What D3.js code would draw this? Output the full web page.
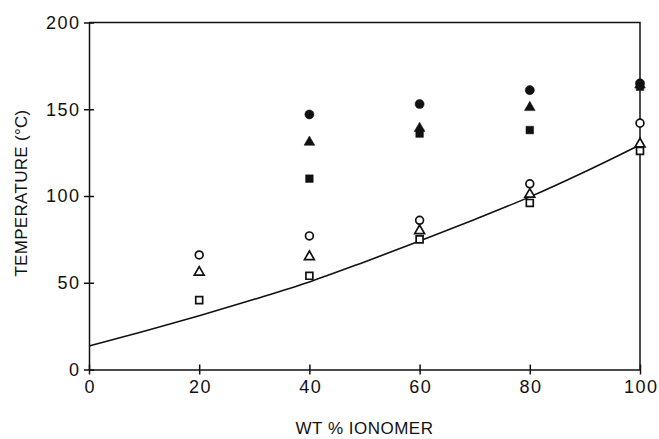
<!DOCTYPE html>
<html lang="en">
<head>
  <meta charset="UTF-8">
  <title>Temperature vs wt % ionomer</title>
  <style>
    body { margin: 0; background: #fff; }
    text { font-family: 'Liberation Sans', Arial, Helvetica, sans-serif; fill: #111; }
  </style>
</head>
<body>
  <svg id="svg" width="659" height="439"></svg>
  <script src="https://d3js.org/d3.v7.min.js"></script>
  <script>
    // wt % ionomer at which samples were measured
    const wtIonomer = [20, 40, 60, 80, 100]

    // series (°C); null = no point
    const filledCircle = [null, 147, 153, 161, 165]
    const filledTriangle = [null, 131, 139, 151, 164]
    const filledSquare = [null, 110, 136, 138, 163]
    const openCircle = [66, 77, 86, 107, 142]
    const openTriangle = [56, 65, 80, 101, 130]
    const openSquare = [40, 54, 75, 96, 126]

    // fitted curve
    const curveX = [0, 10, 20, 30, 40, 50, 60, 70, 80, 90, 100]
    const curveY = [13.5, 22, 31, 40.5, 50.5, 62, 74, 86.5, 99.5, 114, 129.5]

    const xTicks = [0, 20, 40, 60, 80, 100]
    const yTicks = [0, 50, 100, 150, 200]

    const svg = d3.select('#svg')
    const margin = { left: 89, right: 19, top: 22.5, bottom: 69.5 }
    const width = 659 - margin.left - margin.right
    const height = 439 - margin.top - margin.bottom

    const x = d3.scaleLinear().domain([0, 100]).range([0, width])
    const y = d3.scaleLinear().domain([0, 200]).range([height, 0])

    const g = svg.append('g').attr('transform', `translate(${margin.left},${margin.top})`)

    // frame (top and right)
    g.append('path')
      .attr('d', `M0,0H${width}V${height}`)
      .attr('fill', 'none')
      .attr('stroke', '#111')
      .attr('stroke-width', 1.5)

    // axes with ticks crossing the line
    const xAxis = g.append('g')
      .attr('transform', `translate(0,${height})`)
      .call(d3.axisBottom(x).tickValues(xTicks).tickSize(5).tickSizeOuter(0).tickPadding(5.5))
    xAxis.selectAll('.tick line').attr('y1', -5)
    xAxis.selectAll('text').attr('dy', '0.71em').attr('dx', '0.75px')

    const yAxis = g.append('g')
      .call(d3.axisLeft(y).tickValues(yTicks).tickSize(5).tickSizeOuter(0).tickPadding(3.5))
    yAxis.selectAll('.tick line').attr('x1', 5)

    svg.selectAll('.domain, .tick line').attr('stroke', '#111').attr('stroke-width', 1.5)
    svg.selectAll('.tick text')
      .style('fill', '#111')
      .attr('font-size', 18)
      .attr('letter-spacing', 1.5)
      .attr('font-family', "'Liberation Sans', Arial, sans-serif")

    // axis titles
    svg.append('text')
      .attr('x', margin.left + width / 2)
      .attr('y', 434)
      .attr('text-anchor', 'middle')
      .attr('font-size', 17)
      .attr('letter-spacing', 0.5)
      .text('WT % IONOMER')

    svg.append('text')
      .attr('transform', `translate(27,${margin.top + height / 2 - 3}) rotate(-90)`)
      .attr('text-anchor', 'middle')
      .attr('font-size', 17)
      .attr('letter-spacing', 0.3)
      .text('TEMPERATURE (°C)')

    // curve
    const line = d3.line()
      .x((d, i) => x(curveX[i]))
      .y(d => y(d))
      .curve(d3.curveMonotoneX)

    g.append('path')
      .datum(curveY)
      .attr('d', line)
      .attr('fill', 'none')
      .attr('stroke', '#111')
      .attr('stroke-width', 1.6)

    // markers
    const series = [
      { values: filledCircle, shape: d3.symbolCircle, size: 65, filled: true },
      { values: filledTriangle, shape: d3.symbolTriangle, size: 50, filled: true },
      { values: filledSquare, shape: d3.symbolSquare, size: 58, filled: true },
      { values: openCircle, shape: d3.symbolCircle, size: 48, filled: false },
      { values: openTriangle, shape: d3.symbolTriangle, size: 42, filled: false },
      { values: openSquare, shape: d3.symbolSquare, size: 48, filled: false },
    ]

    series.forEach(s => {
      const pts = wtIonomer
        .map((w, i) => ({ w, v: s.values[i] }))
        .filter(d => d.v != null)
      g.append('g')
        .selectAll('path')
        .data(pts)
        .join('path')
        .attr('transform', d => `translate(${x(d.w)},${y(d.v)})`)
        .attr('d', d3.symbol().type(s.shape).size(s.size))
        .attr('fill', s.filled ? '#111' : '#fff')
        .attr('stroke', '#111')
        .attr('stroke-width', s.filled ? 0.5 : 1.7)
    })
  </script>
</body>
</html>
